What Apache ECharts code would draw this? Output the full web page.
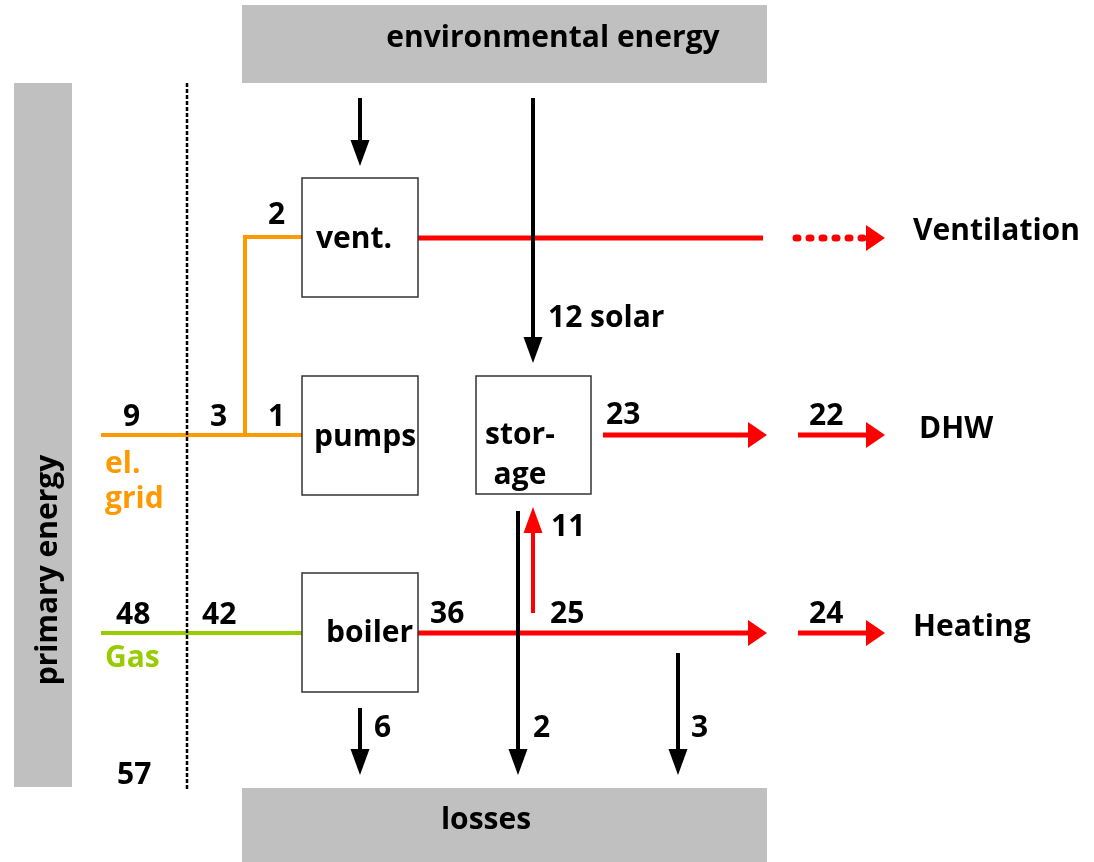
<!DOCTYPE html>
<html>
<head>
<meta charset="utf-8">
<script src="https://cdn.jsdelivr.net/npm/echarts@6/dist/echarts.min.js"></script>
<style>
  html, body { margin: 0; padding: 0; background: #fff; }
  #main { width: 1094px; height: 862px; }
</style>
</head>
<body>
<div id="main"></div>
<script>
// energy flow values
var electricity = [9, 3, 1, 2];        // grid, behind meter, pumps, ventilation
var gas = [48, 42];                    // grid, behind meter
var boilerFlows = [36, 25, 11, 24];    // boiler out, onward, to storage, heating
var storageFlows = [12, 23, 22];       // solar in, storage out, DHW
var lossValues = [6, 2, 3];            // boiler, storage, heating
var primaryTotal = [57];

var boxNames = ['vent.', 'pumps', 'stor-\nage', 'boiler'];
var outputNames = ['Ventilation', 'DHW', 'Heating'];
var carrierNames = ['el.\ngrid', 'Gas'];
var bandNames = ['environmental energy', 'primary energy', 'losses'];

var ORANGE = '#ff9900', GREEN = '#99cc00', RED = '#ff0000', GREY = '#c0c0c0';
var FONT = 'bold 30px "Open Sans"';

// layout of the diagram (pixel space of the hidden axes)
var bandRects = [[242, 5, 767, 83], [14, 83, 72, 787], [242, 788, 767, 862]];
var bandTextPos = [[553, 38, 0], [48, 570, 1], [486, 820, 0]];
var boxRects = [[302, 178, 418, 297], [302, 376, 418, 495], [476, 376, 591, 494], [302, 573, 418, 692]];
var boxTextPos = [[316, 239, 'left'], [314, 437, 'left'], [520, 455, 'center'], [326, 633, 'left']];
var electricityPos = [[123, 417], [210, 417], [268, 417], [268, 215]];
var gasPos = [[116, 615], [202, 615]];
var boilerPos = [[430, 614], [550, 614], [551, 527], [809, 614]];
var storagePos = [[548, 318], [606, 415], [809, 416]];
var lossPos = [[374, 728], [533, 728], [691, 728]];
var totalPos = [[117, 775]];
var outputPos = [[913, 231], [919, 429], [913, 627]];
var carrierPos = [[105, 482], [105, 658]];

var flows = [
    { path: [[101, 435], [302, 435]], color: ORANGE, width: 4 },
    { path: [[245, 435], [245, 237], [302, 237]], color: ORANGE, width: 4 },
    { path: [[101, 633], [302, 633]], color: GREEN, width: 4 },
    { path: [[418, 238], [763, 238]], color: RED, width: 5 },
    { path: [[796, 238], [885, 238]], color: RED, width: 7, dash: [2, 11], cap: 'round', arrow: true },
    { path: [[603, 435], [767, 435]], color: RED, width: 5, arrow: true },
    { path: [[798, 435], [885, 435]], color: RED, width: 5, arrow: true },
    { path: [[418, 633], [767, 633]], color: RED, width: 5, arrow: true },
    { path: [[798, 633], [885, 633]], color: RED, width: 5, arrow: true },
    { path: [[533, 613], [533, 507]], color: RED, width: 4, arrow: true },
    { path: [[360, 98], [360, 166]], color: '#000', width: 4, arrow: true },
    { path: [[533, 98], [533, 363]], color: '#000', width: 4, arrow: true },
    { path: [[518, 511], [518, 775]], color: '#000', width: 4, arrow: true },
    { path: [[360, 708], [360, 775]], color: '#000', width: 4, arrow: true },
    { path: [[678, 653], [678, 775]], color: '#000', width: 4, arrow: true },
    { path: [[187, 83], [187, 790]], color: '#000', width: 2.5, dash: [4, 2] }
];

// text items built from the value arrays
var labels = [];
function addValues(values, pos, suffix) {
    values.forEach(function (v, i) {
        labels.push({ text: v + (suffix && i === 0 ? suffix : ''), x: pos[i][0], y: pos[i][1], color: '#000' });
    });
}
addValues(electricity, electricityPos);
addValues(gas, gasPos);
addValues(boilerFlows, boilerPos);
addValues(storageFlows, storagePos, ' solar');
addValues(lossValues, lossPos);
addValues(primaryTotal, totalPos);
outputNames.forEach(function (n, i) {
    labels.push({ text: n, x: outputPos[i][0], y: outputPos[i][1], color: '#000' });
});
carrierNames.forEach(function (n, i) {
    labels.push({ text: n, x: carrierPos[i][0], y: carrierPos[i][1], color: i === 0 ? ORANGE : GREEN, lh: 35 });
});
boxNames.forEach(function (n, i) {
    labels.push({ text: n, x: boxTextPos[i][0], y: boxTextPos[i][1], color: '#000', align: boxTextPos[i][2], lh: 40 });
});
bandNames.forEach(function (n, i) {
    labels.push({ text: n, x: bandTextPos[i][0], y: bandTextPos[i][1], color: '#000', align: 'center', rot: bandTextPos[i][2] });
});

function rectSeries(rects, style, z) {
    return {
        type: 'custom',
        coordinateSystem: 'cartesian2d',
        silent: true,
        z: z,
        data: rects.map(function (r) { return [r[0], r[1]]; }),
        renderItem: function (params, api) {
            var r = rects[params.dataIndex];
            var p0 = api.coord([r[0], r[1]]);
            var p1 = api.coord([r[2], r[3]]);
            return {
                type: 'rect',
                shape: { x: p0[0], y: p0[1], width: p1[0] - p0[0], height: p1[1] - p0[1] },
                style: style
            };
        }
    };
}

function renderFlow(params, api) {
    var f = flows[params.dataIndex];
    var pts = f.path.map(function (p) { return api.coord(p); });
    var linePts = pts.slice();
    var children = [];
    if (f.arrow) {
        var a = pts[pts.length - 2], b = pts[pts.length - 1];
        var dx = b[0] - a[0], dy = b[1] - a[1];
        var head;
        if (Math.abs(dx) > Math.abs(dy)) {
            var sx = dx > 0 ? 1 : -1;
            var bx = b[0] - sx * 19;
            head = [[b[0], b[1]], [bx, b[1] - 13], [bx, b[1] + 13]];
            linePts[linePts.length - 1] = [bx + sx, b[1]];
        } else {
            var sy = dy > 0 ? 1 : -1;
            var by = b[1] - sy * 26;
            head = [[b[0], b[1]], [b[0] - 9.5, by], [b[0] + 9.5, by]];
            linePts[linePts.length - 1] = [b[0], by + sy];
        }
        children.push({ type: 'polygon', shape: { points: head }, style: { fill: f.color } });
    }
    children.unshift({
        type: 'polyline',
        shape: { points: linePts },
        style: { stroke: f.color, lineWidth: f.width, fill: null, lineDash: f.dash || null, lineCap: f.cap || 'butt' }
    });
    return { type: 'group', children: children };
}

var myChart = echarts.init(document.getElementById('main'));

var option = {
    animation: false,
    grid: { left: 0, right: 0, top: 0, bottom: 0 },
    xAxis: { type: 'value', min: 0, max: 1094, show: false },
    yAxis: { type: 'value', min: 0, max: 862, inverse: true, show: false },
    series: [
        rectSeries(bandRects, { fill: GREY }, 1),
        {
            type: 'custom',
            coordinateSystem: 'cartesian2d',
            silent: true,
            z: 2,
            clip: false,
            data: flows.map(function (f) { return f.path[0]; }),
            renderItem: renderFlow
        },
        rectSeries(boxRects, { fill: '#fff', stroke: '#333', lineWidth: 1.5 }, 3),
        {
            type: 'custom',
            coordinateSystem: 'cartesian2d',
            silent: true,
            z: 4,
            data: labels.map(function (l) { return [l.x, l.y]; }),
            renderItem: function (params, api) {
                var l = labels[params.dataIndex];
                var p = api.coord([l.x, l.y]);
                return {
                    type: 'text',
                    x: p[0],
                    y: p[1],
                    rotation: l.rot ? Math.PI / 2 : 0,
                    style: {
                        text: l.text,
                        fill: l.color,
                        font: FONT,
                        align: l.align || 'left',
                        verticalAlign: 'middle',
                        lineHeight: l.lh || 36
                    }
                };
            }
        }
    ]
};

myChart.setOption(option);
</script>
</body>
</html>
